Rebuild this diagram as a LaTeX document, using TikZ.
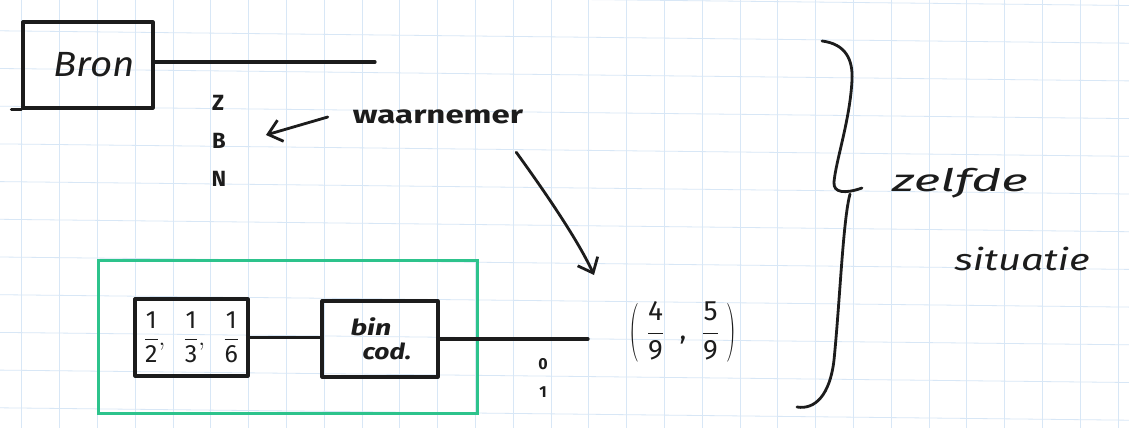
\RequirePackage{fix-cm}
\documentclass[tikz,border=0pt]{standalone}
\usepackage{graphicx}
\usepackage{fontspec}
\setmainfont{Fira Sans}
\usetikzlibrary{arrows.meta,calc}
\definecolor{ink}{RGB}{28,28,28}
\definecolor{marker}{RGB}{45,195,140}
\definecolor{gridblue}{RGB}{216,231,246}
\newcommand{\fs}[1]{\fontsize{#1}{#1}\selectfont}
% a fraction written with the text digits
\newcommand{\hfr}[2]{\frac{\mbox{#1}}{\mbox{#2}}}
% a single parenthesis glyph, stretched to the height of the fractions
\newcommand{\tallparen}[1]{\mbox{\raisebox{-7.5pt}{\scalebox{1}[2.1]{$#1$}}}}
\begin{document}
\begin{tikzpicture}[x=1pt,y=-1pt,
  pen/.style={draw=ink,line width=3.2pt,line cap=round,line join=round},
  blockbox/.style={pen,rectangle,inner sep=0pt,text=ink},
  hand/.style={text=ink,inner sep=0pt},
  barb/.style={pen,line width=2.8pt,-{Straight Barb[length=13pt,width=22pt,line width=2.8pt]}}]
  \useasboundingbox (0,0) rectangle (1129,428);
  \fill[white] (0,0) rectangle (1129,428);
  % squared paper
  \foreach \k in {0,...,29}
    \draw[gridblue,line width=0.8pt] (21.7+37.8*\k,0) -- (21.7+37.8*\k,428);
  \foreach \k in {-1,...,11}
    \draw[gridblue,line width=0.8pt] (0,30.8+37.7*\k) -- (1129,43.2+37.7*\k);

  % source and its channel
  \node[blockbox,minimum width=130pt,minimum height=86pt,font=\fs{35}\itshape] (bron) at (88,65)
    {\hspace*{12pt}\scalebox{1.1}[1]{Bron}};
  \draw[pen] (bron.south west) -- ++(-10,0);
  \coordinate (chanend) at (375,62);
  \draw[pen] (bron.east |- chanend) -- (chanend);
  \node[hand,font=\fs{22}\bfseries] (Z) at (218,103) {Z};
  \node[hand,font=\fs{22}\bfseries] (B) at (219,141) {B};
  \node[hand,font=\fs{22}\bfseries] (N) at (219,179) {N};

  % observer label
  \node[hand,font=\fs{25}\bfseries] (obs) at (438,117) {\scalebox{1.32}[1]{waarnemer}};
  \draw[barb] ($(obs.west)+(-25,0)$) -- ($(B.east)+(40,-6)$);
  \coordinate (tip) at (594,275);
  \draw[barb] ($(obs.south east)+(-7,28)$) .. controls (540,185) and (577,238) .. (tip);

  % coded system
  \node[draw=marker,line width=3pt,rectangle,inner sep=0pt,minimum width=379pt,minimum height=153pt] (sys) at (287.5,336.5) {};
  \node[blockbox,minimum width=113pt,minimum height=77pt,font=\fs{25}] (frac) at (191.5,337.5)
    {$\displaystyle\hfr{1}{2},\;\; \hfr{1}{3},\;\; \hfr{1}{6}$};
  \node[blockbox,minimum width=116pt,minimum height=76pt,font=\fs{22}\itshape\bfseries,align=center] (bin) at (380,339)
    {\hspace*{-18pt}\scalebox{1.3}[1]{bin}\\[2pt]\hspace*{14pt}\scalebox{1.2}[1]{cod.}};
  \draw[pen] (frac.east) -- (frac.east -| bin.west);
  \coordinate (outend) at (588,338);
  \draw[pen] (bin.east) -- (bin.east -| outend);
  \node[hand,font=\fs{16}\bfseries] (zero) at (543,364) {0};
  \node[hand,font=\fs{16}\bfseries] (one) at (543,392) {1};
  \node[hand,font=\fs{28}] (prob) at (683,332)
    {$\displaystyle\tallparen{(}\;\hfr{4}{9}\;\;\mbox{,}\;\; \hfr{5}{9}\;\tallparen{)}$};

  % brace and its note
  \draw[pen,line width=2.8pt] (822,41) .. controls (846,44) and (853,60) .. (852,80)
    .. controls (850,120) and (836,160) .. (834,182)
    .. controls (833,193) and (845,194) .. (862,188);
  \draw[pen,line width=2.8pt] (850,194) .. controls (843,220) and (840,300) .. (834,360)
    .. controls (830,395) and (815,410) .. (797,407);
  \node[hand,font=\fs{31}\itshape] (zelfde) at (960,183) {\scalebox{1.65}[1]{zelfde}};
  \node[hand,font=\fs{30}\itshape] (situatie) at (1022,259) {\scalebox{1.33}[1]{situatie}};
\end{tikzpicture}
\end{document}
